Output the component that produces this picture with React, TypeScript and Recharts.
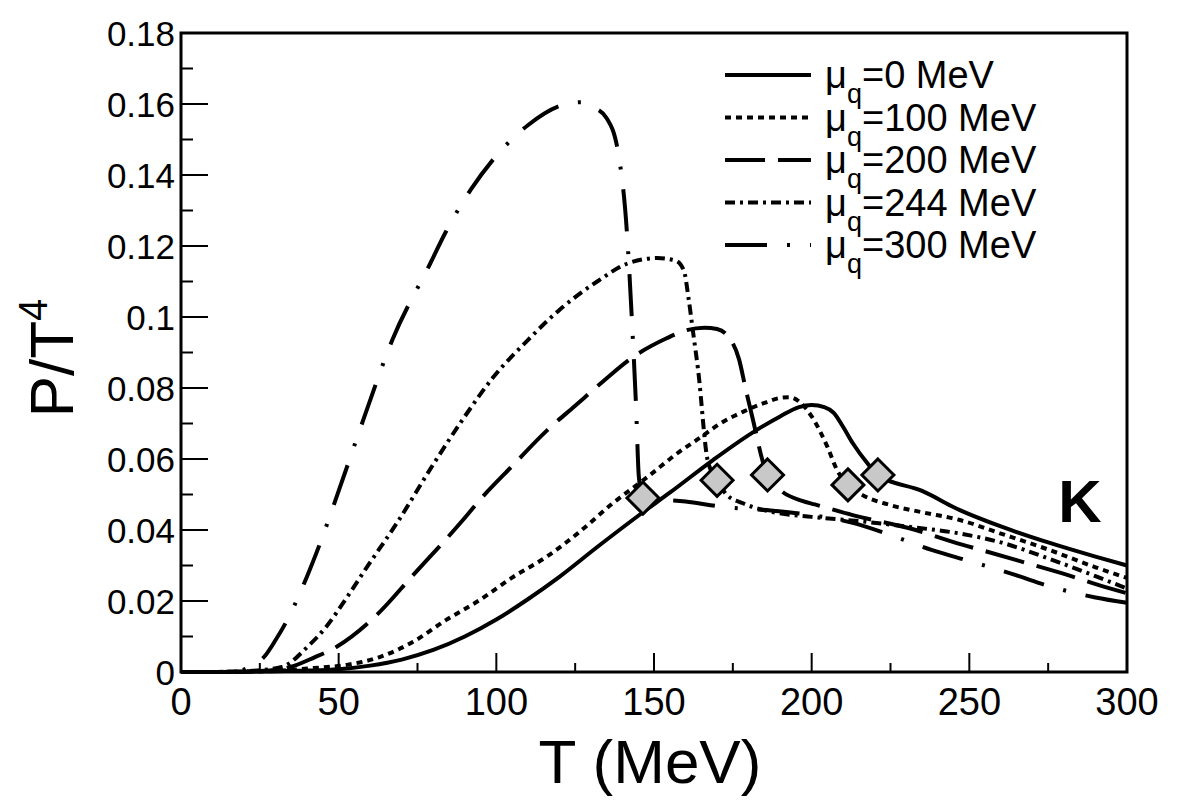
import React from 'react';
import { ComposedChart, Line, Scatter, XAxis, YAxis, ReferenceArea } from 'recharts';

// Kaon pressure P/T^4 versus temperature for several quark chemical potentials.
// Each row is [T (MeV), P/T^4].
const mu0Values: number[][] = [
  [0, 0], [10, 0], [20, 0.0001], [30, 0.0002], [40, 0.0004], [50, 0.0008], [60, 0.0018],
  [70, 0.0035], [80, 0.0062], [90, 0.01], [100, 0.0148], [110, 0.0205], [120, 0.0268],
  [132, 0.0352], [146.5, 0.045], [155, 0.0505], [168.7, 0.0597], [181, 0.0673], [190, 0.072],
  [196, 0.0746], [200, 0.0752], [204, 0.0746], [207, 0.073], [210, 0.069], [213, 0.0645],
  [217.5, 0.059], [221, 0.0555], [235, 0.051], [247, 0.0456], [260, 0.041], [275, 0.0365],
  [290, 0.0325], [300, 0.03],
];

const mu100Values: number[][] = [
  [0, 0], [10, 0], [20, 0.0001], [30, 0.0003], [42, 0.0011], [52.6, 0.002], [63, 0.0042],
  [73.6, 0.0085], [84, 0.0146], [94.8, 0.0203], [105, 0.0266], [116, 0.0325], [126, 0.0392],
  [137, 0.0476], [148, 0.055], [158, 0.062], [164.6, 0.066], [171, 0.07], [178, 0.0732],
  [185, 0.0758], [190, 0.0772], [193, 0.0774], [196, 0.0762], [200, 0.072], [205, 0.0634],
  [208, 0.057], [211.5, 0.0527], [216, 0.0499], [225, 0.047], [235, 0.045], [247, 0.0428],
  [260, 0.039], [275, 0.0345], [290, 0.0295], [300, 0.0265],
];

const mu200Values: number[][] = [
  [0, 0], [10, 0], [20, 0.0001], [30, 0.0006], [35, 0.0015], [42, 0.004], [49.5, 0.0072],
  [62, 0.016], [73.6, 0.0273], [89.4, 0.0428], [94.8, 0.0485], [105, 0.058], [116, 0.068],
  [125, 0.075], [134, 0.082], [143, 0.0885], [154, 0.094], [160, 0.0962], [166, 0.097],
  [170, 0.0966], [174, 0.094], [177, 0.088], [179, 0.08], [181.4, 0.071], [184.6, 0.059],
  [186, 0.0555], [190, 0.0513], [197, 0.0482], [201, 0.0472], [213, 0.0442], [233, 0.04],
  [245, 0.0366], [256, 0.0338], [265, 0.0315], [279, 0.0279], [294, 0.0237], [300, 0.0222],
];

const mu244Values: number[][] = [
  [0, 0], [10, 0], [20, 0.0002], [32, 0.0014], [40, 0.007], [46, 0.0127], [52.6, 0.021],
  [59, 0.0296], [68.5, 0.042], [80, 0.0585], [90, 0.072], [99, 0.083], [110, 0.0935],
  [120, 0.102], [132, 0.11], [141.4, 0.115], [151, 0.1166], [157, 0.1158], [159.5, 0.113],
  [161, 0.105], [162.5, 0.095], [164, 0.085], [167, 0.0597], [170, 0.054], [173, 0.05],
  [178, 0.0476], [188, 0.045], [200, 0.0437], [215, 0.0425], [230, 0.041], [247, 0.039],
  [260, 0.0365], [275, 0.032], [290, 0.027], [300, 0.0235],
];

const mu300Values: number[][] = [
  [0, 0], [10, 0], [18, 0.0003], [22, 0.0015], [26.6, 0.0045], [30, 0.009], [33.6, 0.0145],
  [40, 0.027], [44, 0.036], [50, 0.051], [57.8, 0.071], [67, 0.0935], [79, 0.115], [84, 0.124],
  [92, 0.136], [99.6, 0.145], [110, 0.154], [121, 0.1597], [127, 0.1605], [131, 0.159],
  [135, 0.156], [138.6, 0.1465], [141.4, 0.124], [143, 0.099], [144.3, 0.075], [145.2, 0.055],
  [146.5, 0.049], [160, 0.048], [172, 0.0465], [187, 0.0455], [200, 0.0442], [213, 0.042],
  [225, 0.0386], [238, 0.0344], [251, 0.031], [264, 0.0275], [276, 0.024], [290, 0.021],
  [300, 0.0195],
];

// Transition points marked with diamonds.
const transitionValues: number[][] = [
  [146.5, 0.049], [170, 0.054], [186, 0.0555], [211.5, 0.0527], [221, 0.0555],
];

const xTicks = [0, 25, 50, 75, 100, 125, 150, 175, 200, 225, 250, 275, 300];
const yTicks = [0, 0.01, 0.02, 0.03, 0.04, 0.05, 0.06, 0.07, 0.08, 0.09, 0.1, 0.11, 0.12, 0.13, 0.14, 0.15, 0.16, 0.17, 0.18];
const muLabels = ['0', '100', '200', '244', '300'];

type Pt = { T: number; y: number };
const toPoints = (rows: number[][]): Pt[] => rows.map(([T, y]) => ({ T, y }));

const FONT = '"Liberation Sans", Arial, Helvetica, sans-serif';

const series = [
  { name: muLabels[0], data: toPoints(mu0Values), dash: undefined as string | undefined },
  { name: muLabels[1], data: toPoints(mu100Values), dash: '6 5' },
  { name: muLabels[2], data: toPoints(mu200Values), dash: '40 13' },
  { name: muLabels[3], data: toPoints(mu244Values), dash: '10 5 3 5' },
  { name: muLabels[4], data: toPoints(mu300Values), dash: '42 20 3 20' },
];

const markers = toPoints(transitionValues);

const XTick = (props: any) => {
  const { x, y, payload } = props;
  const major = payload.value % 50 === 0;
  return (
    <g>
      <line x1={x} x2={x} y1={y} y2={y - (major ? 19 : 9)} stroke="#000" strokeWidth={2} />
      {major && (
        <text x={x} y={y + 43} textAnchor="middle" fontSize={38} fontFamily={FONT} fill="#000">
          {payload.value}
        </text>
      )}
    </g>
  );
};

const YTick = (props: any) => {
  const { x, y, payload, index } = props;
  const major = index % 2 === 0;
  return (
    <g>
      <line x1={x} x2={x + (major ? 27 : 12)} y1={y} y2={y} stroke="#000" strokeWidth={2} />
      {major && (
        <text x={x - 6} y={y + 12.5} textAnchor="end" fontSize={35} fontFamily={FONT} fill="#000">
          {String(payload.value)}
        </text>
      )}
    </g>
  );
};

const Diamond = (props: any) => {
  const { cx, cy } = props;
  const r = 16;
  return (
    <polygon
      points={`${cx},${cy - r} ${cx + r},${cy} ${cx},${cy + r} ${cx - r},${cy}`}
      fill="#c8c8c8"
      stroke="#000"
      strokeWidth={3}
      strokeLinejoin="miter"
    />
  );
};

export default function App() {
  return (
    <div style={{ position: 'absolute', left: 0, top: 0, width: 1182, height: 800, background: '#fff' }}>
      <ComposedChart width={1182} height={800} margin={{ top: 33, right: 55, bottom: 0, left: 0 }}>
        <XAxis
          dataKey="T"
          type="number"
          domain={[0, 300]}
          ticks={xTicks}
          tick={<XTick />}
          tickLine={false}
          axisLine={false}
          tickSize={0}
          tickMargin={0}
          height={128}
          interval={0}
        />
        <YAxis
          dataKey="y"
          type="number"
          domain={[0, 0.18]}
          ticks={yTicks}
          tick={<YTick />}
          tickLine={false}
          axisLine={false}
          tickSize={0}
          tickMargin={0}
          width={181}
          interval={0}
        />
        <ReferenceArea
          x1={0}
          x2={300}
          y1={0}
          y2={0.18}
          fill="none"
          fillOpacity={0}
          stroke="#000"
          strokeWidth={3}
          ifOverflow="visible"
        />
        {series.map((s) => (
          <Line
            key={s.name}
            data={s.data}
            dataKey="y"
            type="monotone"
            stroke="#000"
            strokeWidth={4}
            strokeDasharray={s.dash}
            dot={false}
            activeDot={false}
            isAnimationActive={false}
          />
        ))}
        <Scatter data={markers} dataKey="y" shape={<Diamond />} isAnimationActive={false} />
      </ComposedChart>
      <svg
        width={1182}
        height={800}
        style={{ position: 'absolute', left: 0, top: 0, pointerEvents: 'none' }}
        fontFamily={FONT}
      >
        {series.map((s, i) => {
          const ly = 75 + i * 42.5;
          return (
            <g key={s.name}>
              <line x1={725} x2={811} y1={ly} y2={ly} stroke="#000" strokeWidth={4} strokeDasharray={s.dash} />
              <text x={825} y={ly + 13} fontSize={38} fill="#000">
                μ
                <tspan fontSize={27} dy={15}>q</tspan>
                <tspan fontSize={38} dy={-15}>{`=${s.name} MeV`}</tspan>
              </text>
            </g>
          );
        })}
        <text x={1080} y={522} fontSize={60} fontWeight="bold" textAnchor="middle" fill="#000">K</text>
        <text x={650} y={783} fontSize={62} textAnchor="middle" fill="#000">T (MeV)</text>
        <text transform="translate(73,358) rotate(-90)" fontSize={62} textAnchor="middle" fill="#000">
          P/T<tspan fontSize={40} dy={-26}>4</tspan>
        </text>
      </svg>
    </div>
  );
}
